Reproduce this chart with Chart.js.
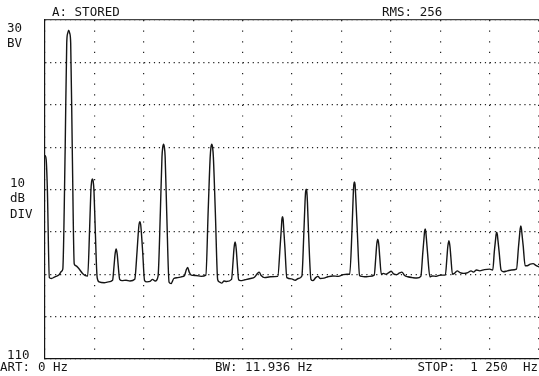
<!DOCTYPE html>
<html>
<head>
<meta charset="utf-8">
<script src="https://cdn.jsdelivr.net/npm/chart.js@4/dist/chart.umd.min.js"></script>
<style>
  html, body { margin: 0; padding: 0; background: #fff; }
  #wrap { width: 539px; height: 376px; position: relative; }
</style>
</head>
<body>
<div id="wrap"><canvas id="spectrum"></canvas></div>
<script>
// stored spectrum trace, 0 - 1250 Hz, level in dB (one line per harmonic)
const freqHz = [
  0, 3, 6, 11, 16, 25, 35, 42,
  45, 51, 55, 57.5, 60, 62.5, 65, 69, 74,
  78, 85, 95, 102,
  108, 113, 116, 118, 120, 122, 124, 127, 132,
  137, 150, 160,
  171, 175, 177, 178.7, 180, 181.3, 183, 185, 189,
  195, 205, 215,
  227, 233, 236, 238, 240, 242, 244, 247, 252,
  258, 266, 272, 279,
  286, 292, 296, 298, 300, 302, 304, 308, 314,
  319, 326, 336, 346, 353, 357, 361, 365, 370, 382, 395,
  407, 413, 418, 420, 422, 424, 426, 431, 437,
  441, 447, 453, 459,
  472, 476, 478, 479.6, 481, 482.4, 484, 486, 490,
  495, 506, 520, 530, 537, 542, 547, 556, 570,
  589, 595, 598, 599.5, 601, 602.5, 604, 607, 612,
  624, 633, 641,
  650, 655, 658, 659.5, 661, 662.5, 664, 667, 673,
  678, 685, 691, 696, 706, 716, 728, 742, 755, 764,
  771, 777, 780, 781.5, 783, 784.5, 786, 790, 796,
  801, 811, 821,
  833, 837, 839, 840.6, 842, 843.4, 845, 847, 851,
  856, 863, 870, 876, 882, 890, 897, 903, 910, 918, 930, 941,
  951, 956, 959, 960.5, 962, 963.5, 965, 968, 974,
  980, 990, 1000,
  1013, 1017, 1019, 1020.6, 1022, 1023.4, 1025, 1027, 1031,
  1036, 1043, 1050, 1060, 1070, 1078, 1084, 1092, 1100, 1112, 1125,
  1133, 1137, 1140, 1141.5, 1143, 1144.5, 1146, 1149, 1154,
  1160, 1170, 1180,
  1193, 1198, 1201, 1202.5, 1204, 1205.5, 1207, 1210, 1215,
  1220, 1228, 1235, 1242, 1250
];
const levelDb = [
  -1.9, -3.0, -10, -30.8, -31.0, -30.6, -30.2, -29.3,
  -28.8, -0.6, 24.6, 26.9, 27.6, 26.9, 24.6, -0.5, -27.6,
  -28.0, -28.6, -29.8, -30.3,
  -30.4, -19.0, -10.5, -8.1, -7.5, -8.1, -10.5, -19.0, -30.8,
  -31.8, -32.0, -31.8,
  -31.4, -27.7, -25.5, -24.4, -24.0, -24.4, -25.5, -27.7, -31.2,
  -31.5, -31.4, -31.6,
  -31.2, -24.5, -20.3, -18.2, -17.6, -18.2, -20.3, -24.5, -31.5,
  -31.8, -31.7, -31.2, -31.6,
  -30.5, -15.0, -2.3, 0.0, 0.7, 0.0, -2.3, -15.5, -31.9,
  -32.2, -31.0, -30.8, -30.6, -30.3, -29.1, -28.4, -29.5, -30.2, -30.3, -30.5,
  -30.2, -14.8, -2.3, 0.0, 0.7, 0.0, -2.3, -15.3, -31.3,
  -31.8, -32.1, -31.6, -31.7,
  -31.2, -26.8, -24.2, -22.9, -22.4, -22.9, -24.2, -26.8, -31.3,
  -31.5, -31.3, -31.0, -30.7, -29.9, -29.5, -30.3, -30.8, -30.6,
  -30.5, -23.4, -19.2, -17.0, -16.4, -17.0, -19.2, -23.6, -30.8,
  -31.1, -31.4, -31.0,
  -30.4, -20.2, -12.9, -10.5, -9.9, -10.5, -12.9, -20.5, -31.2,
  -31.5, -30.8, -30.5, -31.0, -30.9, -30.6, -30.4, -30.5, -30.1, -30.0,
  -30.0, -19.1, -11.2, -8.8, -8.2, -8.8, -11.2, -19.3, -30.3,
  -30.5, -30.6, -30.5,
  -30.2, -26.0, -23.4, -22.2, -21.7, -22.2, -23.4, -25.9, -30.0,
  -29.8, -30.0, -29.6, -29.3, -29.9, -30.1, -29.7, -29.5, -30.3, -30.6, -30.8, -30.9,
  -30.5, -24.9, -21.5, -19.9, -19.3, -19.9, -21.5, -25.0, -30.6,
  -30.4, -30.5, -30.2,
  -30.2, -26.1, -23.7, -22.6, -22.1, -22.6, -23.7, -26.0, -30.0,
  -29.8, -29.2, -29.6, -29.8, -29.6, -29.2, -29.5, -29.0, -29.2, -28.9, -28.8,
  -29.0, -24.6, -21.9, -20.6, -20.1, -20.6, -21.9, -24.6, -29.0,
  -29.4, -29.2, -29.0,
  -28.8, -23.7, -20.6, -19.2, -18.6, -19.2, -20.6, -23.3, -28.0,
  -28.0, -27.6, -27.5, -27.9, -28.3
];

const headerLabels = ['A: STORED', 'RMS: 256'];
const refLabels = ['30', 'BV'];
const scaleLabels = ['10', 'dB', 'DIV'];
const bottomLabel = '110';
const footerLabels = ['ART:', '0 Hz', 'BW: 11.936 Hz', 'STOP:  1 250  Hz'];

const ink = '#151515';
const font = '12.5px "DejaVu Sans Mono", monospace';

// analyzer annotations around the graticule
const panelText = {
  id: 'panelText',
  afterDraw(chart) {
    const ctx = chart.ctx;
    const area = chart.chartArea;
    const y = chart.scales.y;
    ctx.save();
    ctx.fillStyle = ink;
    ctx.font = font;
    ctx.textBaseline = 'middle';
    ctx.textAlign = 'left';

    ctx.fillText(headerLabels[0], 52, 12.5);
    ctx.fillText(headerLabels[1], 382, 12.5);

    const top = y.getPixelForValue(30);
    ctx.fillText(refLabels[0], 7, top + 9);
    ctx.fillText(refLabels[1], 7, top + 24);

    const mid = y.getPixelForValue(-10);
    scaleLabels.forEach((t, i) => ctx.fillText(t, 10, mid - 6 + i * 15.5));

    ctx.fillText(bottomLabel, 7, y.getPixelForValue(-50) - 3);

    const fy = area.bottom + 9;
    ctx.fillText(footerLabels[0], 0, fy);
    ctx.fillText(footerLabels[1], 38, fy);
    ctx.fillText(footerLabels[2], 215, fy);
    ctx.textAlign = 'right';
    ctx.fillText(footerLabels[3], 538, fy);
    ctx.restore();
  }
};

new Chart(document.getElementById('spectrum'), {
  type: 'line',
  data: {
    datasets: [{
      data: freqHz.map((f, i) => ({ x: f, y: levelDb[i] })),
      borderColor: ink,
      borderWidth: 1.4,
      pointRadius: 0,
      fill: false,
      cubicInterpolationMode: 'monotone'
    }]
  },
  options: {
    responsive: true,
    maintainAspectRatio: false,
    animation: false,
    layout: { padding: { left: 45, right: 0, top: 20, bottom: 17 } },
    plugins: {
      legend: { display: false },
      tooltip: { enabled: false }
    },
    scales: {
      x: {
        type: 'linear',
        min: 0,
        max: 1250,
        ticks: { display: false, stepSize: 125 },
        grid: { color: '#222', lineWidth: 1.2, drawTicks: false },
        border: { display: true, color: ink, width: 1.2, dash: [1.2, 9.4] },
        afterFit: (s) => { s.height = 0; }
      },
      xTop: {
        type: 'linear',
        position: 'top',
        min: 0,
        max: 1250,
        ticks: { display: false },
        grid: { display: false, drawTicks: false },
        border: { display: true, color: '#444', width: 1.2 },
        afterFit: (s) => { s.height = 0; }
      },
      y: {
        min: -50,
        max: 30,
        ticks: { display: false, stepSize: 10 },
        grid: { color: '#222', lineWidth: 1.2, drawTicks: false },
        border: { display: true, color: ink, width: 1.2, dash: [1.2, 3.74] },
        afterFit: (s) => { s.width = 0; }
      }
    }
  },
  plugins: [panelText]
});
</script>
</body>
</html>
